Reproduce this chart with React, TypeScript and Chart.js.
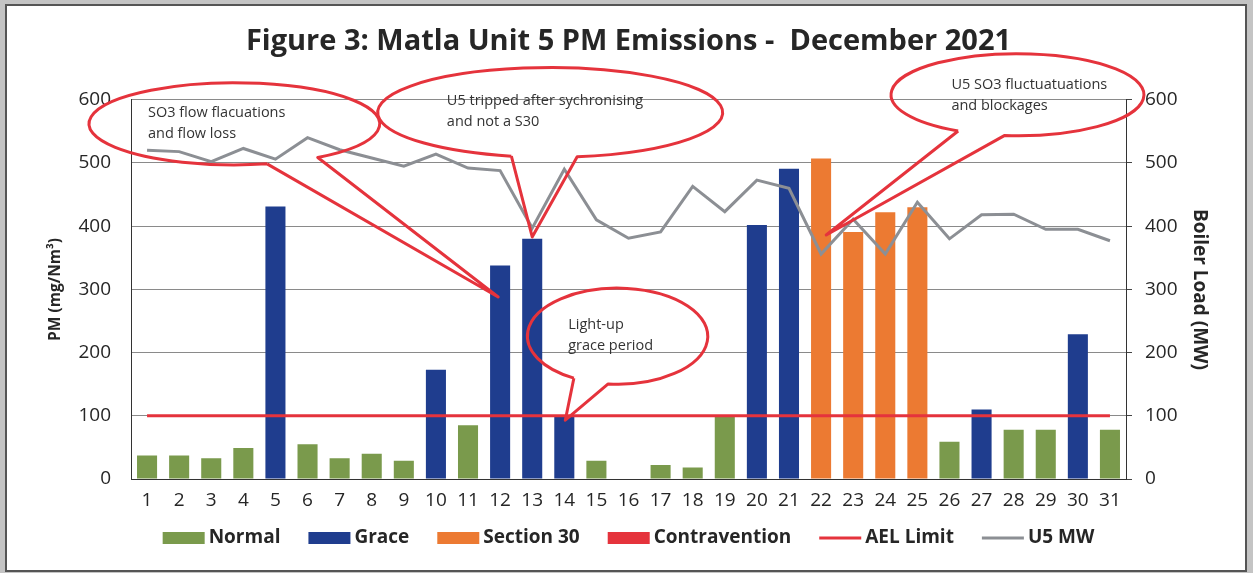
import React, { useEffect, useRef } from "react";
import { Chart, registerables } from "chart.js";

Chart.register(...registerables);

// ---------- data ----------
const days = ["1","2","3","4","5","6","7","8","9","10","11","12","13","14","15","16","17","18","19","20","21","22","23","24","25","26","27","28","29","30","31"];

const pmValues = [37, 37, 33, 49, 431, 55, 33, 40, 29, 173, 85, 338, 380, 100, 29, 0, 22, 18, 99, 402, 491, 507, 391, 422, 430, 59, 110, 78, 78, 229, 78];

const pmStatus = [
  "Normal","Normal","Normal","Normal","Grace","Normal","Normal","Normal","Normal","Grace",
  "Normal","Grace","Grace","Grace","Normal","Normal","Normal","Normal","Normal","Grace",
  "Grace","Section 30","Section 30","Section 30","Section 30","Normal","Grace","Normal","Normal","Grace","Normal",
];

const mwValues = [520, 518, 502, 523, 506, 540, 521, 508, 495, 514, 492, 488, 397, 490, 410, 381, 391, 463, 423, 473, 460, 356, 411, 356, 438, 380, 418, 419, 395, 395, 377];

const aelLimit = [100,100,100,100,100,100,100,100,100,100,100,100,100,100,100,100,100,100,100,100,100,100,100,100,100,100,100,100,100,100,100];

const statusNames = ["Normal", "Grace", "Section 30", "Contravention"];

const yTicks = [0, 100, 200, 300, 400, 500, 600];

// callout annotations (positions in day / value units)
const callouts = [
  { lines: ["SO3 flow flacuations", "and flow loss"], center: [3.72, 562], radius: [4.53, 65], wedge: [55, 77], tip: [11.94, 288], text: [1.03, 579] },
  { lines: ["U5 tripped after sychronising", "and not a S30"], center: [13.56, 580], radius: [5.375, 71], wedge: [81, 103], tip: [13.0, 383], text: [10.34, 599] },
  { lines: ["Light-up", "grace period"], center: [15.66, 226], radius: [2.81, 76], wedge: [96, 119], tip: [14.03, 93], text: [14.12, 244] },
  { lines: ["U5 SO3 fluctuatuations", "and blockages"], center: [28.12, 608], radius: [3.94, 65], wedge: [96, 118], tip: [22.16, 386], text: [26.06, 623] },
];

// ---------- styles ----------
const FONT = "'Open Sans', Lato, sans-serif";
const GREEN = "#7a9a4c";
const BLUE = "#1f3d8e";
const ORANGE = "#ec7a32";
const RED = "#e5333c";
const GRAY = "#8c8f94";
const TEXT = "#262626";
const statusColors: Record<string, string> = {
  Normal: GREEN,
  Grace: BLUE,
  "Section 30": ORANGE,
  Contravention: RED,
};

const calloutPlugin = {
  id: "callouts",
  afterDraw(chart: any) {
    const { ctx } = chart;
    const x = chart.scales.x;
    const y = chart.scales.y;
    const px = (d: number) => x.getPixelForValue(d - 1);
    const py = (v: number) => y.getPixelForValue(v);
    callouts.forEach((c) => {
      const cx = px(c.center[0]);
      const cy = py(c.center[1]);
      const rx = Math.abs(px(1 + c.radius[0]) - px(1));
      const ry = Math.abs(py(0) - py(c.radius[1]));
      const tx = px(c.tip[0]);
      const ty = py(c.tip[1]);
      const a1 = (c.wedge[0] * Math.PI) / 180;
      const a2 = (c.wedge[1] * Math.PI) / 180;
      ctx.save();
      ctx.strokeStyle = RED;
      ctx.lineWidth = 3;
      ctx.lineJoin = "round";
      ctx.beginPath();
      ctx.moveTo(cx + rx * Math.cos(a2), cy + ry * Math.sin(a2));
      ctx.lineTo(tx, ty);
      ctx.lineTo(cx + rx * Math.cos(a1), cy + ry * Math.sin(a1));
      ctx.ellipse(cx, cy, rx, ry, 0, a1, a2, true);
      ctx.stroke();
      ctx.fillStyle = "#333";
      ctx.font = `14.5px ${FONT}`;
      ctx.textAlign = "left";
      ctx.textBaseline = "middle";
      const t0x = px(c.text[0]);
      const t0y = py(c.text[1]);
      c.lines.forEach((line, i) => ctx.fillText(line, t0x, t0y + i * 21));
      ctx.restore();
    });
  },
};

const legendPlugin = {
  id: "bottomLegend",
  afterDraw(chart: any) {
    const { ctx, chartArea } = chart;
    const items = chart.data.datasets.map((ds: any) => ({
      label: ds.label as string,
      color: (ds.type === "line" ? ds.borderColor : ds.backgroundColor) as string,
      line: ds.type === "line",
    }));
    const boxW = 42;
    const boxH = 12;
    const gapText = 4;
    const gapItem = 28;
    ctx.save();
    ctx.font = `bold 19px ${FONT}`;
    const widths = items.map((it: any) => boxW + gapText + ctx.measureText(it.label).width);
    const total = widths.reduce((a: number, b: number) => a + b, 0) + gapItem * (items.length - 1);
    let xPos = (chartArea.left + chartArea.right) / 2 - total / 2;
    const yc = chartArea.bottom + 59;
    items.forEach((it: any, i: number) => {
      if (it.line) {
        ctx.strokeStyle = it.color;
        ctx.lineWidth = 3;
        ctx.beginPath();
        ctx.moveTo(xPos, yc);
        ctx.lineTo(xPos + boxW, yc);
        ctx.stroke();
      } else {
        ctx.fillStyle = it.color;
        ctx.fillRect(xPos, yc - boxH / 2, boxW, boxH);
      }
      ctx.fillStyle = TEXT;
      ctx.textAlign = "left";
      ctx.textBaseline = "middle";
      ctx.fillText(it.label, xPos + boxW + gapText, yc);
      xPos += widths[i] + gapItem;
    });
    ctx.restore();
  },
};

export default function App() {
  const ref = useRef<HTMLCanvasElement | null>(null);

  useEffect(() => {
    if (!ref.current) return;
    const barSets = statusNames.map((name) => ({
      type: "bar" as const,
      label: name,
      data: pmValues.map((v, i) => (pmStatus[i] === name ? v : null)),
      backgroundColor: statusColors[name],
      borderWidth: 0,
      grouped: false,
      barPercentage: 0.625,
      categoryPercentage: 1,
      yAxisID: "y",
      order: 3,
    }));
    const chart = new Chart(ref.current, {
      data: {
        labels: days,
        datasets: [
          ...barSets,
          {
            type: "line" as const,
            label: "AEL Limit",
            data: aelLimit,
            borderColor: RED,
            backgroundColor: RED,
            borderWidth: 3,
            pointRadius: 0,
            yAxisID: "y",
            order: 1,
          },
          {
            type: "line" as const,
            label: "U5 MW",
            data: mwValues,
            borderColor: GRAY,
            backgroundColor: GRAY,
            borderWidth: 3,
            pointRadius: 0,
            tension: 0,
            yAxisID: "y1",
            order: 0,
          },
        ],
      } as any,
      options: {
        responsive: false,
        animation: false,
        devicePixelRatio: 1,
        layout: { padding: { left: 36, right: 32, top: 0, bottom: 62 } },
        scales: {
          x: {
            grid: { display: false },
            border: { display: true, color: "#333", width: 1 },
            ticks: { font: { family: FONT, size: 19 }, color: TEXT, padding: 2, maxRotation: 0, autoSkip: false },
            afterFit: (s: any) => { s.height = 32; },
          },
          y: {
            position: "left",
            min: 0,
            max: 600,
            afterBuildTicks: (s: any) => { s.ticks = yTicks.map((v) => ({ value: v })); },
            ticks: { font: { family: FONT, size: 19 }, color: TEXT, padding: 20 },
            grid: { color: "#8a8a8a", drawTicks: false, lineWidth: 1 },
            border: { color: "#333", width: 1 },
            title: { display: true, text: "PM (mg/Nm³)", font: { family: FONT, size: 15.5, weight: "bold" }, color: TEXT, padding: { top: 10, bottom: 0 } },
            afterFit: (s: any) => { s.width = 95; },
          },
          y1: {
            position: "right",
            min: 0,
            max: 600,
            afterBuildTicks: (s: any) => { s.ticks = yTicks.map((v) => ({ value: v })); },
            ticks: { font: { family: FONT, size: 19 }, color: TEXT, padding: 13 },
            grid: { drawOnChartArea: false, drawTicks: true, tickLength: 6, color: "#444" },
            border: { color: "#333", width: 1 },
            title: { display: true, text: "Boiler Load (MW)", font: { family: FONT, size: 19, weight: "bold" }, color: TEXT, padding: { top: 10, bottom: 0 } },
            afterFit: (s: any) => { s.width = 95; },
          },
        },
        plugins: {
          title: {
            display: true,
            text: "Figure 3: Matla Unit 5 PM Emissions -  December 2021",
            font: { family: FONT, size: 29, weight: "bold" },
            color: TEXT,
            padding: { top: 24, bottom: 41 },
          },
          legend: { display: false },
          tooltip: { enabled: false },
        },
      } as any,
      plugins: [calloutPlugin, legendPlugin],
    });
    return () => chart.destroy();
  }, []);

  return (
    <div style={{ position: "fixed", left: 0, top: 0, width: 1253, height: 573, background: "#c4c4c4" }}>
      <div style={{ position: "absolute", left: 5, top: 4, width: 1238, height: 564, background: "#fff", border: "2px solid #555" }} />
      <canvas ref={ref} width={1253} height={573} style={{ position: "absolute", left: 0, top: 0 }} />
    </div>
  );
}
